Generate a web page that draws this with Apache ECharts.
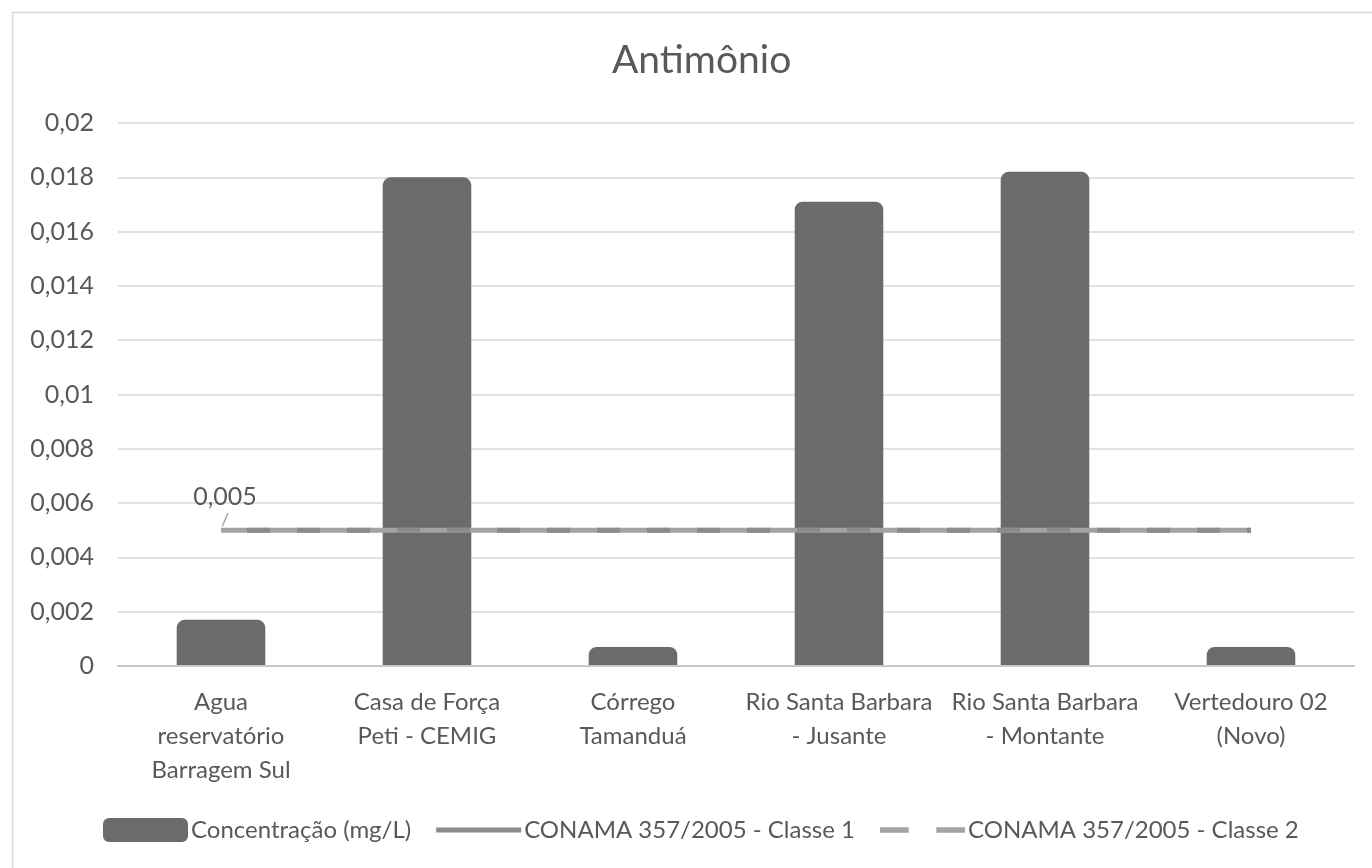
<!DOCTYPE html>
<html>
<head>
<meta charset="utf-8">
<script src="https://cdn.jsdelivr.net/npm/echarts@6/dist/echarts.min.js"></script>
<style>
  html, body { margin: 0; padding: 0; background: #ffffff; }
  #chart { width: 1372px; height: 868px; }
</style>
</head>
<body>
<div id="chart"></div>
<script>
// Sampling points (category axis labels)
const categories = [
  'Agua\nreservatório\nBarragem Sul',
  'Casa de Força\nPeti - CEMIG',
  'Córrego\nTamanduá',
  'Rio Santa Barbara\n- Jusante',
  'Rio Santa Barbara\n- Montante',
  'Vertedouro 02\n(Novo)'
];
// Measured antimony concentration (mg/L)
const concentracao = [0.0017, 0.018, 0.0007, 0.0171, 0.0182, 0.0007];
// CONAMA 357/2005 limits (mg/L)
const classe1 = [0.005, 0.005, 0.005, 0.005, 0.005, 0.005];
const classe2 = [0.005, 0.005, 0.005, 0.005, 0.005, 0.005];
// Value axis range
const yMin = 0, yMax = 0.02, yStep = 0.002;

const TXT = '#595959';
const FONT = 'Lato';
const SOLID = '#a3a3a3';
const DASH = '#8c8c8c';

const fmt = v => (v === 0 ? '0' : String(+v.toFixed(3)).replace('.', ','));

const chart = echarts.init(document.getElementById('chart'));
chart.setOption({
  backgroundColor: '#ffffff',
  animation: false,
  graphic: [{
    type: 'rect',
    left: 10, top: 10,
    shape: { width: 1420, height: 900 },
    style: { fill: 'none', stroke: '#d9d9d9', lineWidth: 1.5 },
    silent: true, z: -10
  }],
  title: {
    text: 'Antimônio',
    left: 607, top: 36,
    textStyle: { fontFamily: FONT, fontSize: 39, fontWeight: 'normal', color: TXT }
  },
  grid: { left: 118, right: 18, top: 123, bottom: 202, containLabel: false },
  legend: {
    bottom: 21, left: 98,
    itemWidth: 85, itemHeight: 24, itemGap: 25,
    textStyle: { fontFamily: FONT, fontSize: 24, color: TXT, padding: [0, 0, 0, -2] },
    data: [
      { name: 'Concentração (mg/L)', icon: 'roundRect' },
      { name: 'CONAMA 357/2005 - Classe 1', icon: 'path://M0,0 H85 V5 H0 Z', itemStyle: { color: DASH } },
      { name: 'CONAMA 357/2005 - Classe 2', icon: 'path://M0,0 H27 V5 H0 Z M53,0 H80 V5 H53 Z', itemStyle: { color: SOLID } }
    ]
  },
  xAxis: {
    type: 'category',
    data: categories,
    z: 3,
    axisLine: { show: true, lineStyle: { color: '#c8c8c8', width: 2 } },
    axisTick: { show: false },
    axisLabel: { fontFamily: FONT, fontSize: 24, color: TXT, lineHeight: 34, margin: 19, interval: 0 }
  },
  yAxis: {
    type: 'value',
    min: yMin, max: yMax, interval: yStep,
    axisLine: { show: false },
    axisTick: { show: false },
    axisLabel: { fontFamily: FONT, fontSize: 25, color: TXT, margin: 24, formatter: fmt },
    splitLine: { lineStyle: { color: '#d9d9d9', width: 1.5 } }
  },
  series: [
    {
      name: 'Concentração (mg/L)',
      type: 'bar',
      data: concentracao,
      barWidth: '43%',
      itemStyle: { color: '#6b6b6b', borderRadius: [8, 8, 0, 0] }
    },
    {
      name: 'CONAMA 357/2005 - Classe 1',
      type: 'line',
      data: classe1.map((v, i) => i === 0 ? {
        value: v,
        label: {
          show: true, position: 'top', distance: 0, offset: [4, 0],
          // value text with a short leader stroke pointing at the line
          formatter: p => '{v|' + fmt(p.value) + '}\n{l|/}',
          rich: {
            v: { fontFamily: FONT, fontSize: 25, color: TXT, lineHeight: 26 },
            l: { fontFamily: FONT, fontSize: 18, color: '#9a9a9a', lineHeight: 20 }
          }
        }
      } : v),
      symbol: 'circle',
      symbolSize: 0,
      showSymbol: true,
      z: 4,
      lineStyle: { color: SOLID, width: 5 },
      itemStyle: { color: SOLID }
    },
    {
      name: 'CONAMA 357/2005 - Classe 2',
      type: 'line',
      data: classe2,
      symbol: 'none',
      z: 5,
      lineStyle: { color: DASH, width: 5, type: [23, 27], dashOffset: 24 },
      itemStyle: { color: DASH }
    }
  ]
});
</script>
</body>
</html>
